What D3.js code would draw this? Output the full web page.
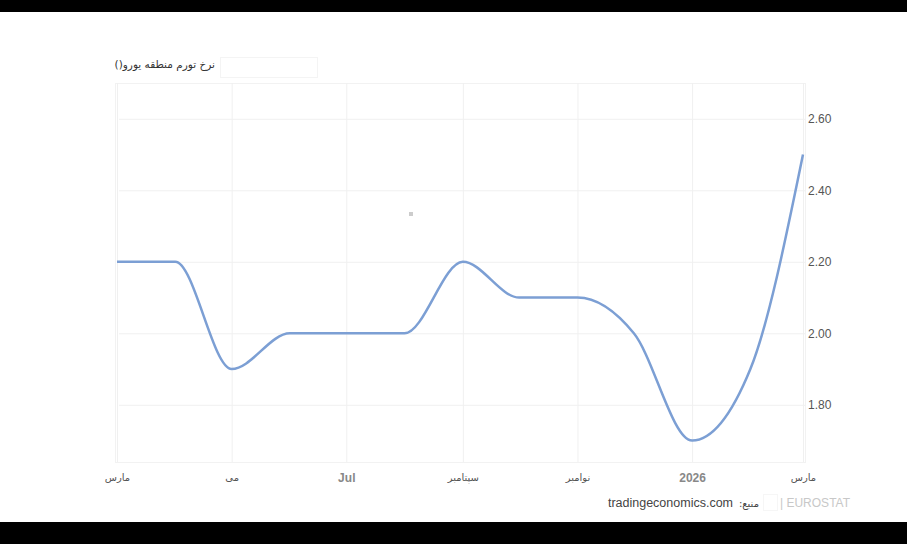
<!DOCTYPE html>
<html><head><meta charset="utf-8">
<script src="https://cdn.jsdelivr.net/npm/d3@7"></script>
<style>
html,body{margin:0;padding:0;background:#000;}
svg{display:block;}
</style></head>
<body>
<script>
const months = ["2025-03-01","2025-04-01","2025-05-01","2025-06-01","2025-07-01","2025-08-01","2025-09-01","2025-10-01","2025-11-01","2025-12-01","2026-01-01","2026-02-01","2026-03-01"];
const values = [2.2,2.2,1.9,2.0,2.0,2.0,2.2,2.1,2.1,2.0,1.7,1.9,2.5];
const tickDates = ["2025-03-01","2025-05-01","2025-07-01","2025-09-01","2025-11-01","2026-01-01","2026-03-01"];
const tickLabels = ["مارس","می","Jul","سپتامبر","نوامبر","2026","مارس"];
const yTicks = [1.8,2.0,2.2,2.4,2.6];
const title = "نرخ تورم منطقه یورو()";

const W=907,H=544;
const svg=d3.select("body").append("svg").attr("width",W).attr("height",H);
svg.append("rect").attr("x",0).attr("y",12).attr("width",W).attr("height",510).attr("fill","#fff");

const parse=d3.utcParse("%Y-%m-%d");
const data=months.map((m,i)=>({d:parse(m),v:values[i]}));
const x=d3.scaleUtc().domain([parse(months[0]),parse(months[months.length-1])]).range([117,803]);
const y=d3.scaleLinear().domain([1.64,2.70]).range([462,83]);

// plot frame
svg.append("rect").attr("x",115.5).attr("y",83.5).attr("width",690).attr("height",379)
  .attr("fill","none").attr("stroke","#f2f2f2");

// grid
const yAxis=d3.axisRight(y).tickValues(yTicks).tickFormat(d3.format(".2f")).tickSize(-(803-117)).tickPadding(6);
const gy=svg.append("g").attr("transform","translate(805,0)").call(yAxis);
gy.select(".domain").remove();
gy.selectAll(".tick line").attr("stroke","#f0f0f0");
gy.selectAll(".tick text").attr("fill","#555").attr("font-family","Liberation Sans, Arial, sans-serif").attr("font-size","12px").attr("x",3);

const isLatin=i=>/[0-9A-Za-z]/.test(tickLabels[i]);
const xAxis=d3.axisBottom(x).tickValues(tickDates.map(parse)).tickFormat((d,i)=>tickLabels[i]).tickSize(-(462-83)).tickPadding(16);
const gx=svg.append("g").attr("transform","translate(0,462)").call(xAxis);
gx.select(".domain").remove();
gx.selectAll(".tick line").attr("stroke","#f0f0f0");
gx.selectAll(".tick text")
  .attr("font-family",(d,i)=>isLatin(i)?"Liberation Sans, Arial, sans-serif":"DejaVu Sans, sans-serif")
  .attr("font-size",(d,i)=>isLatin(i)?"12px":"10px")
  .attr("font-weight",(d,i)=>isLatin(i)?"bold":"normal")
  .attr("fill",(d,i)=>isLatin(i)?"#888":"#555")
  .attr("dy","0.3em");

// line
svg.append("path").datum(data)
  .attr("d",d3.line().x(d=>x(d.d)).y(d=>y(d.v)).curve(d3.curveMonotoneX))
  .attr("fill","none").attr("stroke","#7c9fd4").attr("stroke-width",2.5);

// title
svg.append("text").attr("x",215).attr("y",68).attr("direction","rtl").attr("text-anchor","start")
  .style("direction","rtl").style("unicode-bidi","plaintext")
  .attr("font-family","DejaVu Sans, sans-serif").attr("font-size","10.5px").attr("fill","#333").text(title);
svg.append("rect").attr("x",220.5).attr("y",57.5).attr("width",97).attr("height",20).attr("fill","none").attr("stroke","#f4f4f4");

// stray marker
svg.append("rect").attr("x",409).attr("y",212).attr("width",4).attr("height",4).attr("fill","#ccc");

// source
svg.append("text").attr("x",733).attr("y",507).attr("text-anchor","end")
  .attr("font-family","Liberation Sans, Arial, sans-serif").attr("font-size","12.5px").attr("fill","#444").text("tradingeconomics.com");
svg.append("text").attr("x",759).attr("y",507).attr("direction","rtl").attr("text-anchor","start")
  .style("direction","rtl").style("unicode-bidi","plaintext")
  .attr("font-family","DejaVu Sans, sans-serif").attr("font-size","10px").attr("fill","#444").text("منبع:");
svg.append("rect").attr("x",763.5).attr("y",494.5).attr("width",14).attr("height",16).attr("fill","none").attr("stroke","#f6f6f6");
svg.append("text").attr("x",780).attr("y",507)
  .attr("font-family","Liberation Sans, Arial, sans-serif").attr("font-size","12px").attr("fill","#c8c8c8").text("| EUROSTAT");
</script>
</body></html>
